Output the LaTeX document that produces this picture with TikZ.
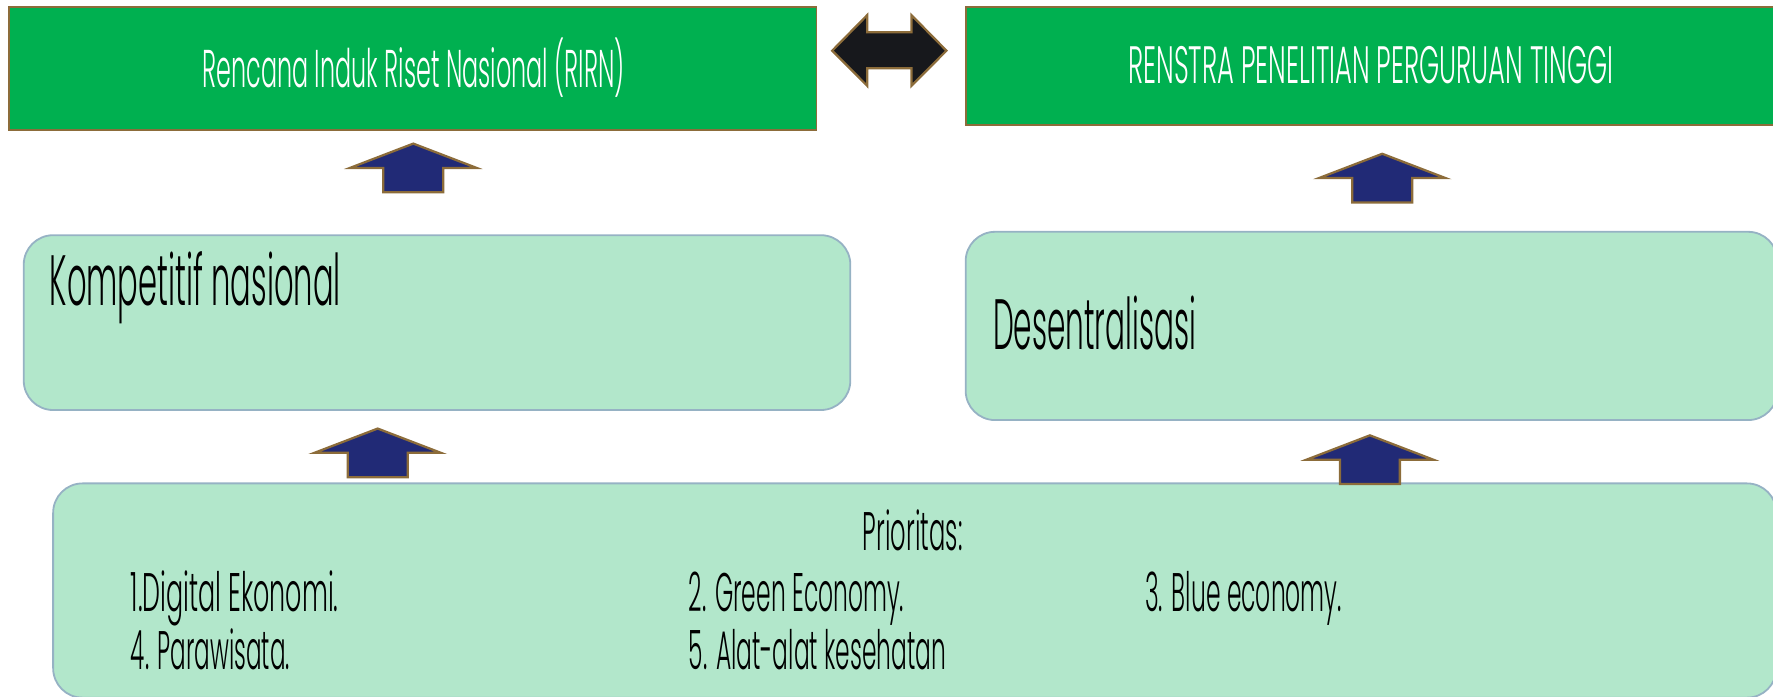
\documentclass[tikz,border=0pt]{standalone}
\usepackage{fontspec}
\usepackage{graphicx}
\setmainfont{Poppins Light}
\definecolor{bgreen}{RGB}{0,176,80}
\definecolor{gold}{RGB}{140,108,58}
\definecolor{navy}{RGB}{33,42,118}
\definecolor{mint}{RGB}{178,231,203}
\definecolor{mintline}{RGB}{150,178,196}
\definecolor{blackarr}{RGB}{23,24,28}
\newcommand{\ctext}[3]{\resizebox{#1pt}{\height}{\fontsize{#2pt}{#2pt}\selectfont #3}}
\tikzset{
  topbox/.style={draw=gold, line width=1.5pt, fill=bgreen, inner sep=0pt},
  softbox/.style={draw=mintline, line width=1.6pt, fill=mint, rounded corners=26pt, inner sep=0pt},
  txt/.style={inner sep=0pt, anchor=base west},
  arrline/.style={draw=gold, line width=2pt, line join=miter},
  uparr/.pic={\path[arrline, fill=navy] (0,0) -- (56,21.5) -- (26.5,21.5) -- (26.5,43) -- (-26.5,43) -- (-26.5,21.5) -- (-56,21.5) -- cycle;}
}
\begin{document}
\begin{tikzpicture}[x=1pt,y=-1pt]
\useasboundingbox (0,0) rectangle (1568,616);
\clip (0,0) rectangle (1568,616);
% top boxes
\node[topbox, minimum width=714pt, minimum height=109pt] (rirn) at (365,60.5) {};
\node[topbox, minimum width=726pt, minimum height=104.5pt] (renstra) at (1217,58.25) {};
% soft boxes
\node[softbox, minimum width=731pt, minimum height=154.6pt] (komp) at (386.5,285.3) {};
\node[softbox, minimum width=718pt, minimum height=166.5pt] (desen) at (1213,288.25) {};
\node[softbox, minimum width=1524pt, minimum height=189.5pt] (prio) at (809,522.25) {};
% texts
\node[txt, text=white] (trirn) at (178.8,77.2) {\ctext{373.6}{47}{Rencana Induk Riset Nasional (RIRN)}};
\node[txt, text=white] (trenstra) at (997.6,73.7) {\ctext{429.2}{46.5}{RENSTRA PENELITIAN PERGURUAN TINGGI}};
\node[txt] (tkomp) at (43.7,270.6) {\ctext{257.5}{63}{Kompetitif nasional}};
\node[txt] (tdesen) at (878,309) {\ctext{179.5}{63}{Desentralisasi}};
\node[txt] (tprio) at (763,486.4) {\ctext{88}{48}{Prioritas:}};
\node[txt] (p1) at (115.5,541) {\ctext{183.7}{48}{1.Digital Ekonomi.}};
\node[txt] (p2) at (609,541) {\ctext{190.5}{48}{2. Green Economy.}};
\node[txt] (p3) at (1012.6,541) {\ctext{174}{48}{3. Blue economy.}};
\node[txt] (p4) at (115.5,592) {\ctext{140.7}{48}{4. Parawisata.}};
\node[txt] (p5) at (609,592) {\ctext{227.7}{48}{5. Alat-alat kesehatan}};
% double arrow between top boxes
\path[arrline, fill=blackarr] (736,44.8) -- (767,13.3) -- (767,28.6) -- (806,28.6) -- (806,13.3) -- (837,44.8) -- (806,76) -- (806,60.4) -- (767,60.4) -- (767,76) -- cycle;
% up arrows
\pic at (365.5,127) {uparr};
\pic at (1222.4,136) {uparr};
\pic at (334,379) {uparr};
\pic at (1211.5,385) {uparr};
\end{tikzpicture}
\end{document}
